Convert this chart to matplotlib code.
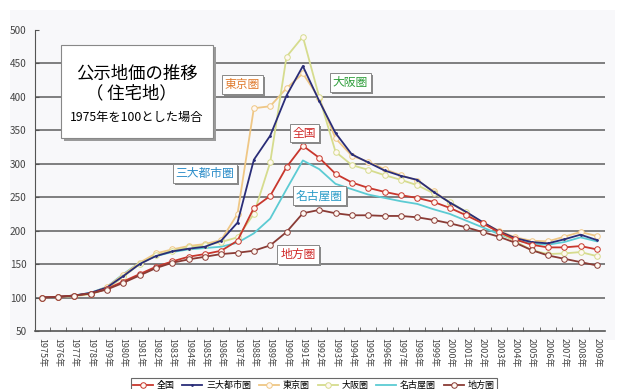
import matplotlib
matplotlib.use("Agg")
import matplotlib.pyplot as plt
from matplotlib.patches import Rectangle
from matplotlib.transforms import offset_copy

plt.rcParams['font.family'] = ['Noto Sans CJK JP', 'DejaVu Sans']

years = list(range(1975, 2010))
year_labels = [f"{y}年" for y in years]

zenkoku = [100, 101, 103, 106, 113, 124, 135, 146, 154, 161, 165, 170, 185, 234, 252,
           295, 327, 309, 285, 272, 264, 258, 253, 249, 243, 234, 223, 211, 198, 187,
           179, 175, 175, 177, 172]
sandai = [100, 101, 103, 107, 115, 132, 150, 162, 169, 173, 176, 185, 212, 306, 342,
          402, 446, 394, 346, 314, 302, 290, 282, 276, 258, 242, 228, 213, 199, 189,
          183, 181, 187, 194, 186]
tokyo = [100, 101, 103, 106, 116, 134, 152, 166, 172, 177, 180, 186, 225, 383, 386,
         413, 435, 398, 338, 312, 303, 292, 283, 275, 259, 242, 227, 212, 200, 190,
         185, 184, 191, 198, 192]
osaka = [100, 101, 102, 105, 113, 131, 150, 163, 170, 175, 178, 183, 190, 225, 302,
         460, 490, 400, 318, 298, 291, 283, 276, 268, 256, 243, 228, 212, 198, 184,
         171, 165, 166, 168, 162]
nagoya = [100, 101, 103, 107, 116, 135, 152, 162, 168, 172, 174, 176, 182, 196, 218,
          262, 305, 292, 270, 262, 254, 249, 244, 240, 232, 225, 215, 205, 195, 186,
          181, 179, 183, 190, 184]
chiho = [100, 101, 103, 106, 112, 122, 133, 144, 152, 157, 161, 165, 167, 170, 178,
         198, 226, 231, 226, 223, 223, 222, 222, 220, 216, 211, 205, 198, 191, 182,
         171, 163, 158, 153, 148]

series_names = ["全国", "三大都市圏", "東京圏", "大阪圏", "名古屋圏", "地方圏"]
series_values = [zenkoku, sandai, tokyo, osaka, nagoya, chiho]
colors = ["#C8372D", "#2A2D78", "#EFC785", "#D6DC8E", "#5CCBD3", "#8A3B35"]
markers = ["o", ".", "o", "o", None, "o"]
msizes = [4, 2.5, 4, 4, 0, 4]
zorders = [6, 5, 4, 4, 3, 6]

fig = plt.figure(figsize=(6.4, 3.89), dpi=100)
fig.patch.set_facecolor("white")
bg = Rectangle((10/640, 1-340/389), 605/640, 330/389,
               transform=fig.transFigure, facecolor="#F8F8FA",
               edgecolor="none", zorder=-10)
fig.add_artist(bg)
ax = fig.add_axes([35/640, 1-331/389, 570/640, 301/389])
ax.set_facecolor("none")
ax.set_zorder(1)

for name, vals, c, m, ms, z in zip(series_names, series_values, colors, markers, msizes, zorders):
    ax.plot(years, vals, color=c, lw=1.3, marker=m, ms=ms,
            mfc="#FFF8F2" if m == "o" else c, mec=c, mew=0.7, label=name, zorder=z)

ax.set_xlim(1974.6, 2009.5)
ax.set_ylim(50, 500)
ax.set_yticks(range(50, 501, 50))
for v in range(100, 451, 50):
    ax.axhline(v, color="#6A6A6A", lw=1.2, zorder=1)

ax.set_xticks(years)
ax.set_xticklabels(year_labels, rotation=-90, fontsize=6.5, color="#444444")
ax.set_xticks([y + 0.5 for y in years[:-1]], minor=True)
ax.tick_params(axis="x", which="major", length=0, pad=5)
ax.tick_params(axis="x", which="minor", length=3, color="#555555", direction="in")
ax.tick_params(axis="y", labelsize=7.2, labelcolor="#444444", length=3, color="#555555",
               direction="in", pad=6)
for s in ["top", "right"]:
    ax.spines[s].set_visible(False)
ax.spines["left"].set_color("#555555")
ax.spines["bottom"].set_color("#555555")
ax.spines["bottom"].set_linewidth(1.2)

# Title box
shadow = Rectangle((1976.2 + 0.2, 338 - 4), 9.3, 140, facecolor="#9A9A9A",
                   edgecolor="none", zorder=7)
box = Rectangle((1976.2, 338), 9.3, 140, facecolor="white", edgecolor="#888888",
                lw=0.8, zorder=8)
ax.add_patch(shadow)
ax.add_patch(box)
ax.text(1980.85, 434, "公示地価の推移", fontsize=12.5, ha="center", va="center", zorder=9)
ax.text(1980.5, 406, "（ 住宅地）", fontsize=12.5, ha="center", va="center", zorder=9)
ax.text(1980.85, 370, "1975年を100とした場合", fontsize=8.8, ha="center", va="center", zorder=9)

# Series labels
labels = [
    ("東京圏", 1987.3, 419, "#E07B2E"),
    ("大阪圏", 1993.9, 421, "#2E9E3A"),
    ("全国", 1991.1, 346, "#D02A2A"),
    ("三大都市圏", 1985.0, 285, "#2A8CC8"),
    ("名古屋圏", 1992.0, 252, "#2A9CC8"),
    ("地方圏", 1990.7, 164, "#D02A2A"),
]
for txt, x, y, c in labels:
    tr = offset_copy(ax.transData, fig=fig, x=2, y=-2, units="dots")
    ax.text(x, y, "\u3000" * len(txt), fontsize=8.5, color="none", ha="center", va="center",
            transform=tr, zorder=9,
            bbox=dict(boxstyle="square,pad=0.25", fc="#8A8A8A", ec="none"))
    ax.text(x, y, txt, fontsize=8.5, color=c, ha="center", va="center", zorder=10,
            bbox=dict(boxstyle="square,pad=0.25", fc="white", ec="#888888", lw=0.7))

leg = fig.legend(loc="lower center", bbox_to_anchor=(0.49, -0.02), ncol=6,
                 fontsize=6.5, frameon=True, fancybox=False, edgecolor="#444444",
                 handlelength=2.2, handletextpad=0.4, columnspacing=0.9,
                 borderpad=0.25)
leg.get_frame().set_linewidth(0.8)

fig.savefig("out.png", dpi=100)
